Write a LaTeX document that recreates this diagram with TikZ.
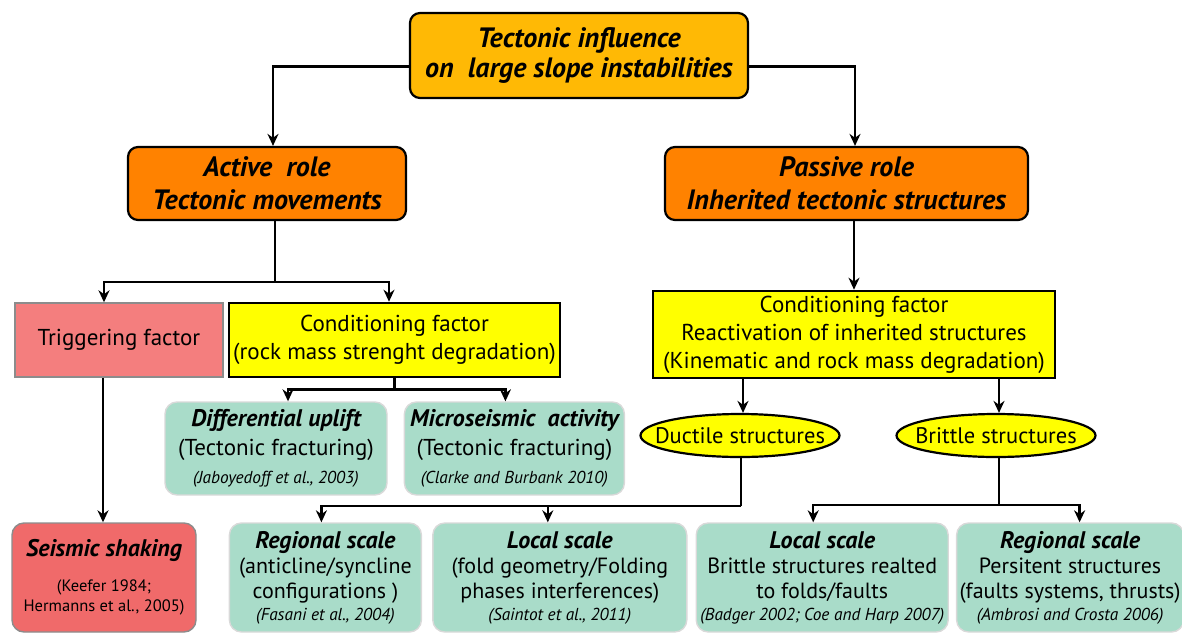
\documentclass[tikz,border=0pt]{standalone}
\usepackage{fontspec}
\setmainfont{PT Sans}
\usetikzlibrary{arrows.meta, positioning, shapes.geometric}
\definecolor{tecgold}{HTML}{FFB905}
\definecolor{tecorange}{HTML}{FF8200}
\definecolor{tecyellow}{HTML}{FFFF00}
\definecolor{tecred}{HTML}{F47E7E}
\definecolor{tecredd}{HTML}{F06A6A}
\definecolor{tecgreen}{HTML}{A9DCC9}
\tikzset{
  x=1pt, y=-1pt,
  >={Stealth[length=12pt, width=11pt]},
  box/.style={rectangle, draw=black, line width=2.2pt, align=center, inner sep=2pt,
              font=\fontsize{23}{29}\selectfont},
  headbox/.style={box, rounded corners=10pt, fill=tecorange,
                  font=\fontsize{28}{33}\selectfont\bfseries\itshape},
  topbox/.style={headbox, fill=tecgold, font=\fontsize{28}{30}\selectfont\bfseries\itshape},
  condbox/.style={box, fill=tecyellow, line width=2.6pt, font=\fontsize{23}{28}\selectfont},
  trigbox/.style={box, fill=tecred, draw=black!45, line width=1.4pt},
  shakebox/.style={trigbox, fill=tecredd, rounded corners=12pt},
  refbox/.style={box, fill=tecgreen, draw=black!15, line width=1.4pt, rounded corners=12pt},
  scalebox/.style={refbox, minimum height=109pt, font=\fontsize{22}{25}\selectfont},
  struct/.style={ellipse, draw=black, line width=2.2pt, fill=tecyellow,
                 inner xsep=-18pt, inner ysep=3pt, minimum width=199pt, minimum height=43pt,
                 font=\fontsize{22.5}{26}\selectfont},
  flow/.style={->, line width=2.4pt},
  link/.style={line width=2.4pt},
}
\newcommand{\ttl}[1]{{\fontsize{24}{29}\selectfont\bfseries\itshape #1}}
\newcommand{\src}[1]{{\fontsize{17.3}{20}\selectfont\itshape #1}}
\newcommand{\srcup}[1]{{\fontsize{16.5}{19}\selectfont #1}}

\begin{document}
\begin{tikzpicture}
  \useasboundingbox (0,0) rectangle (1182,634);

  % top and the two roles
  \node[topbox, minimum width=338pt, minimum height=85pt] (top) at (579,55.5)
    {Tectonic influence\\on~ large slope instabilities};
  \node[headbox, minimum width=278pt, minimum height=73pt] (active) at (267,183.5)
    {Active~ role\\Tectonic movements};
  \node[headbox, minimum width=363pt, minimum height=73pt] (passive) at (846.5,183.5)
    {Passive role\\Inherited tectonic structures};
  \draw[flow] ([yshift=-11pt]top.west) -| ([xshift=6pt]active.north);
  \draw[flow] ([yshift=-11pt]top.east) -| ([xshift=8.5pt]passive.north);

  % active branch
  \node[trigbox, minimum width=208pt, minimum height=74pt] (trig) at (119,340) {Triggering factor};
  \node[condbox, minimum width=331pt, minimum height=74pt, right=4pt of trig] (cond1)
    {Conditioning factor\\(rock mass strenght degradation)};
  \draw[link] ([xshift=8pt]active.south) -- ++(0,61) coordinate (asplit);
  \draw[flow] (asplit) -| ([xshift=-15pt]trig.north);
  \draw[flow] (asplit) -| ([xshift=-5.5pt]cond1.north);

  \node[refbox, minimum width=222pt, minimum height=93pt] (diff) at (276,448.5)
    {\ttl{Differential uplift}\\(Tectonic fracturing)\\[-1pt]\src{(Jaboyedoff et al., 2003)}};
  \node[refbox, minimum width=220pt, minimum height=93pt, right=16pt of diff] (micro)
    {\ttl{Microseismic~ activity}\\(Tectonic fracturing)\\[-1pt]\src{(Clarke and Burbank 2010)}};
  \draw[link] (cond1.south) -- ++(0,11) coordinate (csplit);
  \draw[flow] (csplit) -| ([xshift=12pt]diff.north);
  \draw[flow] (csplit) -| ([xshift=-9pt]micro.north);

  % passive branch
  \node[condbox, minimum width=402pt, minimum height=87pt] (cond2) at (854,334.5)
    {Conditioning factor\\Reactivation of inherited structures\\(Kinematic and rock mass degradation)};
  \draw[flow] (cond2.north |- passive.south) -- (cond2.north);
  \node[struct] (ductile) at (740,435.5) {Ductile structures};
  \node[struct] (brittle) at (996,435.5) {Brittle structures};
  \draw[flow] ([xshift=3pt]ductile.north |- cond2.south) -- ([xshift=3pt]ductile.north);
  \draw[flow] ([xshift=3pt]brittle.north |- cond2.south) -- ([xshift=3pt]brittle.north);

  % bottom row
  \node[shakebox, minimum width=184pt, minimum height=109pt] (shake) at (104,577.5)
    {\ttl{Seismic shaking}\\[6pt]\srcup{(Keefer 1984;}\\[-9pt]\srcup{Hermanns et al., 2005)}};
  \node[scalebox, minimum width=192pt, right=32pt of shake] (regd)
    {\ttl{Regional scale}\\(anticline/syncline\\configurations )\\[-3pt]\src{(Fasani et al., 2004)}};
  \node[scalebox, minimum width=254pt, right=10pt of regd] (locd)
    {\ttl{Local scale}\\(fold geometry/Folding\\phases interferences)\\[-3pt]\src{(Saintot et al., 2011)}};
  \node[scalebox, minimum width=252pt, right=8pt of locd] (locb)
    {\ttl{Local scale}\\Brittle structures realted\\to folds/faults\\[-3pt]\src{(Badger 2002; Coe and Harp 2007)}};
  \node[scalebox, minimum width=227pt, right=7pt of locb] (regb)
    {\ttl{Regional scale}\\Persitent structures\\(faults systems, thrusts)\\[-3pt]\src{(Ambrosi and Crosta 2006)}};

  \draw[flow] ([xshift=-16pt]trig.south) -- ([xshift=-16pt]trig.south |- shake.north);
  \draw[link] ([xshift=1pt]ductile.south) -- ++(0,48) coordinate (dsplit);
  \draw[flow] (dsplit) -| ([xshift=-4pt]regd.north);
  \draw[flow] (dsplit) -| ([xshift=-12pt]locd.north);
  \draw[link] ([xshift=3pt]brittle.south) -- ++(0,47) coordinate (bsplit);
  \draw[flow] (bsplit) -| ([xshift=-9pt]locb.north);
  \draw[flow] (bsplit) -| ([xshift=9.5pt]regb.north);
\end{tikzpicture}
\end{document}
